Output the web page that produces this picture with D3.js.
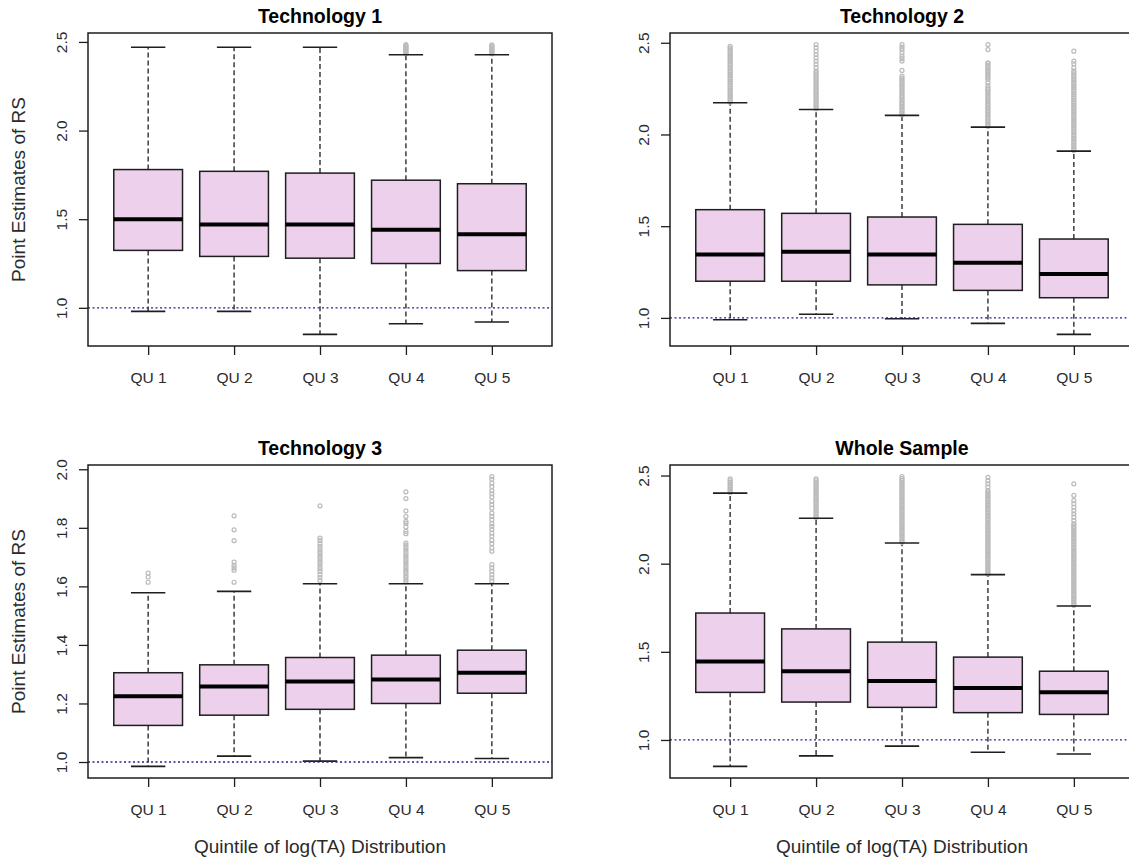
<!DOCTYPE html>
<html>
<head>
<meta charset="utf-8">
<script src="https://cdn.jsdelivr.net/npm/d3@7"></script>
<style>
  body { margin: 0; background: #fff; }
  text { font-family: Arial, "Liberation Sans", sans-serif; }
</style>
</head>
<body>
<svg id="chart" width="1129" height="861"></svg>
<script>
// quintile categories, same for every panel
var categories = ["QU 1", "QU 2", "QU 3", "QU 4", "QU 5"];
var panelTitles = ["Technology 1", "Technology 2", "Technology 3", "Whole Sample"];

// Technology 1
var t1Low  = [0.98, 0.98, 0.85, 0.91, 0.92];
var t1Q1   = [1.324, 1.29, 1.28, 1.25, 1.21];
var t1Med  = [1.50, 1.47, 1.47, 1.44, 1.415];
var t1Q3   = [1.78, 1.77, 1.76, 1.72, 1.70];
var t1High = [2.47, 2.47, 2.47, 2.428, 2.428];
var t1Out  = [
  [], [], [],
  [2.435, 2.44, 2.446, 2.452, 2.457, 2.463, 2.468, 2.474, 2.479, 2.485],
  [2.434, 2.44, 2.445, 2.451, 2.456, 2.462, 2.467, 2.473, 2.478, 2.484]
];
var yTicks1 = [1.0, 1.5, 2.0, 2.5];

// Technology 2
var t2Low  = [0.99, 1.02, 0.995, 0.97, 0.91];
var t2Q1   = [1.20, 1.20, 1.18, 1.15, 1.11];
var t2Med  = [1.345, 1.36, 1.345, 1.30, 1.24];
var t2Q3   = [1.59, 1.57, 1.55, 1.51, 1.43];
var t2High = [2.173, 2.136, 2.104, 2.04, 1.909];
var t2Out  = [
  [2.176, 2.186, 2.195, 2.205, 2.214, 2.224, 2.233, 2.243, 2.252, 2.262, 2.271, 2.281, 2.29, 2.3, 2.309, 2.319,
   2.328, 2.338, 2.347, 2.357, 2.366, 2.376, 2.385, 2.395, 2.404, 2.414, 2.423, 2.433, 2.442, 2.452, 2.461, 2.471, 2.48],
  [2.141, 2.15, 2.16, 2.169, 2.179, 2.188, 2.198, 2.207, 2.217, 2.226, 2.236, 2.245, 2.255, 2.264, 2.274, 2.283,
   2.293, 2.302, 2.312, 2.321, 2.331, 2.34, 2.346, 2.364, 2.382, 2.40, 2.418, 2.436, 2.454, 2.473, 2.49],
  [2.108, 2.117, 2.127, 2.136, 2.146, 2.155, 2.165, 2.174, 2.184, 2.193, 2.203, 2.212, 2.222, 2.231, 2.241, 2.25,
   2.26, 2.269, 2.279, 2.288, 2.298, 2.307, 2.318, 2.349, 2.40, 2.414, 2.427, 2.445, 2.463, 2.476, 2.49],
  [2.045, 2.054, 2.064, 2.073, 2.083, 2.092, 2.102, 2.111, 2.121, 2.13, 2.14, 2.149, 2.159, 2.168, 2.178, 2.187,
   2.197, 2.206, 2.216, 2.225, 2.235, 2.244, 2.254, 2.266, 2.282, 2.3, 2.31, 2.319, 2.329, 2.338, 2.348, 2.357,
   2.367, 2.376, 2.386, 2.391, 2.463, 2.49],
  [1.913, 1.922, 1.932, 1.941, 1.951, 1.96, 1.97, 1.979, 1.989, 1.998, 2.008, 2.017, 2.027, 2.036, 2.046, 2.055,
   2.065, 2.074, 2.084, 2.093, 2.103, 2.112, 2.122, 2.131, 2.141, 2.15, 2.16, 2.169, 2.179, 2.188, 2.198, 2.207,
   2.217, 2.226, 2.236, 2.245, 2.255, 2.264, 2.274, 2.283, 2.293, 2.302, 2.312, 2.321, 2.331, 2.34, 2.345,
   2.364, 2.385, 2.40, 2.454]
];
var yTicks2 = [1.0, 1.5, 2.0, 2.5];

// Technology 3
var t3Low  = [0.985, 1.02, 1.003, 1.015, 1.012];
var t3Q1   = [1.125, 1.16, 1.18, 1.20, 1.235];
var t3Med  = [1.225, 1.258, 1.275, 1.282, 1.305];
var t3Q3   = [1.305, 1.332, 1.357, 1.365, 1.382];
var t3High = [1.578, 1.583, 1.609, 1.609, 1.609];
var t3Out  = [
  [1.614, 1.632, 1.645],
  [1.614, 1.655, 1.663, 1.672, 1.683, 1.756, 1.793, 1.841],
  [1.62, 1.63, 1.64, 1.652, 1.66, 1.669, 1.678, 1.686, 1.695, 1.703, 1.712, 1.72, 1.728, 1.737, 1.746, 1.757, 1.765, 1.875],
  [1.615, 1.622, 1.63, 1.637, 1.645, 1.652, 1.66, 1.668, 1.676, 1.684, 1.692, 1.70, 1.708, 1.716, 1.724, 1.733,
   1.741, 1.748, 1.78, 1.788, 1.803, 1.816, 1.822, 1.839, 1.858, 1.90, 1.923],
  [1.618, 1.629, 1.64, 1.652, 1.663, 1.674, 1.72, 1.731, 1.746, 1.757, 1.771, 1.782, 1.794, 1.805, 1.814, 1.828,
   1.839, 1.85, 1.867, 1.879, 1.89, 1.905, 1.916, 1.927, 1.941, 1.952, 1.966, 1.975]
];
var yTicks3 = [1.0, 1.2, 1.4, 1.6, 1.8, 2.0];

// Whole Sample
var t4Low  = [0.85, 0.91, 0.965, 0.93, 0.92];
var t4Q1   = [1.27, 1.215, 1.185, 1.155, 1.145];
var t4Med  = [1.445, 1.39, 1.335, 1.295, 1.27];
var t4Q3   = [1.72, 1.63, 1.555, 1.47, 1.39];
var t4High = [2.40, 2.258, 2.117, 1.938, 1.76];
var t4Out  = [
  [2.404, 2.414, 2.423, 2.433, 2.442, 2.452, 2.461, 2.471, 2.481],
  [2.262, 2.271, 2.281, 2.29, 2.3, 2.309, 2.319, 2.328, 2.338, 2.347, 2.357, 2.366, 2.376, 2.385, 2.395, 2.404,
   2.414, 2.423, 2.433, 2.442, 2.452, 2.461, 2.471, 2.481],
  [2.121, 2.13, 2.14, 2.149, 2.159, 2.168, 2.178, 2.187, 2.197, 2.206, 2.216, 2.225, 2.235, 2.244, 2.254, 2.263,
   2.273, 2.282, 2.292, 2.301, 2.311, 2.32, 2.33, 2.339, 2.349, 2.358, 2.368, 2.377, 2.387, 2.396, 2.406, 2.415,
   2.425, 2.434, 2.444, 2.453, 2.463, 2.472, 2.482, 2.494],
  [1.942, 1.951, 1.961, 1.97, 1.98, 1.989, 1.999, 2.008, 2.018, 2.027, 2.037, 2.046, 2.056, 2.065, 2.075, 2.084,
   2.094, 2.103, 2.113, 2.122, 2.132, 2.141, 2.151, 2.16, 2.17, 2.179, 2.189, 2.198, 2.208, 2.217, 2.227, 2.236,
   2.246, 2.255, 2.265, 2.274, 2.284, 2.293, 2.303, 2.312, 2.322, 2.331, 2.341, 2.35, 2.36, 2.369, 2.379, 2.388,
   2.398, 2.407, 2.415, 2.434, 2.453, 2.471, 2.49],
  [1.764, 1.773, 1.783, 1.792, 1.802, 1.811, 1.821, 1.83, 1.84, 1.849, 1.859, 1.868, 1.878, 1.887, 1.897, 1.906,
   1.916, 1.925, 1.935, 1.944, 1.954, 1.963, 1.973, 1.982, 1.992, 2.001, 2.011, 2.02, 2.03, 2.039, 2.049, 2.058,
   2.068, 2.077, 2.087, 2.096, 2.106, 2.115, 2.125, 2.134, 2.144, 2.153, 2.163, 2.172, 2.182, 2.191, 2.201, 2.21,
   2.22, 2.226, 2.245, 2.264, 2.283, 2.30, 2.32, 2.34, 2.358, 2.387, 2.453]
];
var yTicks4 = [1.0, 1.5, 2.0, 2.5];

var refValue = 1.0;

var svg = d3.select("#chart");
var boxFill = "#EDD1EC",
    ink = "#1e1e1e",
    outColor = "#BBBBBB",
    refColor = "#23238f";

// panel frames (right column runs past the image edge, like the original)
var panels = [
  { title: panelTitles[0], low: t1Low, q1: t1Q1, med: t1Med, q3: t1Q3, high: t1High, out: t1Out, ticks: yTicks1,
    left: 88, right: 552, top: 33, bottom: 346, ylab: true, xlab: false },
  { title: panelTitles[1], low: t2Low, q1: t2Q1, med: t2Med, q3: t2Q3, high: t2High, out: t2Out, ticks: yTicks2,
    left: 670, right: 1134, top: 33, bottom: 346, ylab: false, xlab: false },
  { title: panelTitles[2], low: t3Low, q1: t3Q1, med: t3Med, q3: t3Q3, high: t3High, out: t3Out, ticks: yTicks3,
    left: 88, right: 552, top: 465, bottom: 778, ylab: true, xlab: true },
  { title: panelTitles[3], low: t4Low, q1: t4Q1, med: t4Med, q3: t4Q3, high: t4High, out: t4Out, ticks: yTicks4,
    left: 670, right: 1134, top: 465, bottom: 778, ylab: false, xlab: true }
];

panels.forEach(drawPanel);

function drawPanel(p) {
  var boxes = categories.map(function(c, i) {
    return { cat: c, pos: i + 1, low: p.low[i], q1: p.q1[i], med: p.med[i], q3: p.q3[i], high: p.high[i], out: p.out[i] };
  });

  // R style: extend data range by 4% on each side
  var lo = d3.min(boxes, function(b) { return d3.min([b.low].concat(b.out)); });
  var hi = d3.max(boxes, function(b) { return d3.max([b.high].concat(b.out)); });
  var pad = (hi - lo) * 0.04;

  var x = d3.scaleLinear().domain([0.3, 5.7]).range([p.left, p.right]);
  var y = d3.scaleLinear().domain([lo - pad, hi + pad]).range([p.bottom, p.top]);

  var g = svg.append("g");

  var box = g.selectAll("g.box")
    .data(boxes)
    .enter().append("g")
      .attr("class", "box");

  // whiskers
  box.append("line")
      .attr("x1", function(d) { return x(d.pos); })
      .attr("x2", function(d) { return x(d.pos); })
      .attr("y1", function(d) { return y(d.q3); })
      .attr("y2", function(d) { return y(d.high); })
      .attr("stroke", ink).attr("stroke-width", 1.3).attr("stroke-dasharray", "5,3");
  box.append("line")
      .attr("x1", function(d) { return x(d.pos); })
      .attr("x2", function(d) { return x(d.pos); })
      .attr("y1", function(d) { return y(d.q1); })
      .attr("y2", function(d) { return y(d.low); })
      .attr("stroke", ink).attr("stroke-width", 1.3).attr("stroke-dasharray", "5,3");

  // outliers
  box.selectAll("circle")
    .data(function(d) { return d.out.map(function(v) { return { pos: d.pos, v: v }; }); })
    .enter().append("circle")
      .attr("cx", function(d) { return x(d.pos); })
      .attr("cy", function(d) { return y(d.v); })
      .attr("r", 2)
      .attr("fill", "none")
      .attr("stroke", outColor)
      .attr("stroke-width", 1.2);

  // staples
  ["high", "low"].forEach(function(k) {
    box.append("line")
        .attr("x1", function(d) { return x(d.pos - 0.2); })
        .attr("x2", function(d) { return x(d.pos + 0.2); })
        .attr("y1", function(d) { return y(d[k]); })
        .attr("y2", function(d) { return y(d[k]); })
        .attr("stroke", ink).attr("stroke-width", 1.6);
  });

  // boxes
  box.append("rect")
      .attr("x", function(d) { return x(d.pos - 0.4); })
      .attr("width", function(d) { return x(d.pos + 0.4) - x(d.pos - 0.4); })
      .attr("y", function(d) { return y(d.q3); })
      .attr("height", function(d) { return y(d.q1) - y(d.q3); })
      .attr("fill", boxFill)
      .attr("stroke", ink)
      .attr("stroke-width", 1.5);

  // medians
  box.append("line")
      .attr("x1", function(d) { return x(d.pos - 0.4); })
      .attr("x2", function(d) { return x(d.pos + 0.4); })
      .attr("y1", function(d) { return y(d.med); })
      .attr("y2", function(d) { return y(d.med); })
      .attr("stroke", "#000").attr("stroke-width", 4);

  // reference line at 1
  g.append("line")
      .attr("x1", p.left).attr("x2", p.right)
      .attr("y1", y(refValue)).attr("y2", y(refValue))
      .attr("stroke", refColor).attr("stroke-width", 1.3)
      .attr("stroke-dasharray", "2,2.5");

  // frame
  g.append("rect")
      .attr("x", p.left).attr("y", p.top)
      .attr("width", p.right - p.left).attr("height", p.bottom - p.top)
      .attr("fill", "none").attr("stroke", ink).attr("stroke-width", 1.5);

  // y axis, labels parallel to axis like R
  var yAxis = g.append("g")
      .attr("transform", "translate(" + p.left + ",0)")
      .call(d3.axisLeft(y).tickValues(p.ticks).tickSize(9).tickFormat(d3.format(".1f")));
  yAxis.select(".domain").remove();
  yAxis.selectAll(".tick line").attr("stroke", ink).attr("stroke-width", 1.3);
  yAxis.selectAll(".tick text")
      .attr("x", 0).attr("dy", null)
      .attr("text-anchor", "middle")
      .attr("transform", "translate(-21,0) rotate(-90)")
      .style("font-size", "15.5px")
      .attr("fill", "#2a2a2a");

  // x axis
  var xAxis = g.append("g")
      .attr("transform", "translate(0," + p.bottom + ")")
      .call(d3.axisBottom(x).tickValues([1, 2, 3, 4, 5])
        .tickSize(9)
        .tickFormat(function(d) { return categories[d - 1]; }));
  xAxis.select(".domain").remove();
  xAxis.selectAll(".tick line").attr("stroke", ink).attr("stroke-width", 1.3);
  xAxis.selectAll(".tick text")
      .attr("y", 37).attr("dy", null)
      .style("font-size", "15.5px")
      .attr("fill", "#2a2a2a");

  // title
  g.append("text")
      .attr("x", (p.left + p.right) / 2)
      .attr("y", p.top - 10)
      .attr("text-anchor", "middle")
      .style("font-size", "19.5px")
      .style("font-weight", "bold")
      .text(p.title);

  if (p.ylab) {
    g.append("text")
        .attr("transform", "translate(25," + ((p.top + p.bottom) / 2) + ") rotate(-90)")
        .attr("text-anchor", "middle")
        .style("font-size", "19px")
        .attr("fill", "#2a2a2a")
        .text("Point Estimates of RS");
  }
  if (p.xlab) {
    g.append("text")
        .attr("x", (p.left + p.right) / 2)
        .attr("y", p.bottom + 75)
        .attr("text-anchor", "middle")
        .style("font-size", "19px")
        .attr("fill", "#2a2a2a")
        .text("Quintile of log(TA) Distribution");
  }
}
</script>
</body>
</html>
